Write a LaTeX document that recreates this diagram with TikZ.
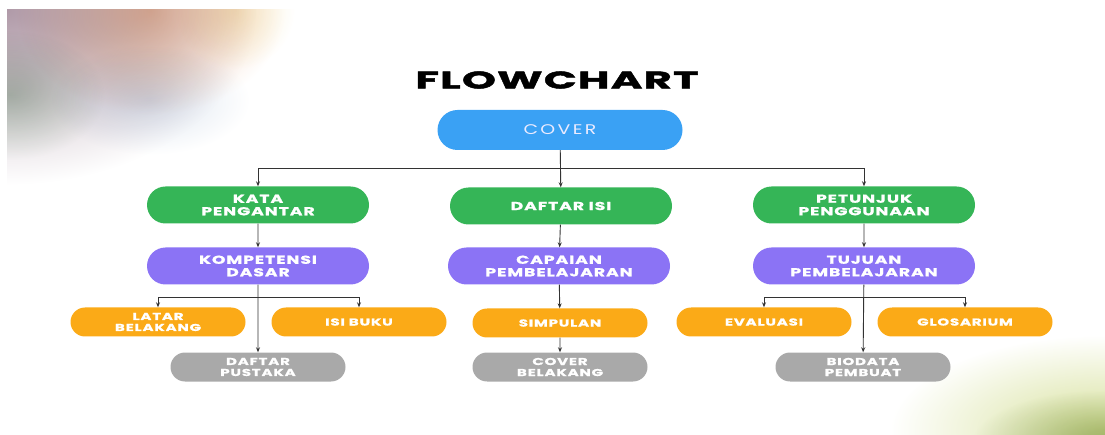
\documentclass[tikz,border=0pt]{standalone}
\usepackage{fontspec}
\setmainfont{Poppins}
\newfontfamily\boxfont[FakeStretch=1.5,LetterSpace=8,FakeBold=1.2]{Poppins}
\newfontfamily\coverfont[FakeStretch=1.35,LetterSpace=17]{Poppins}
\newfontfamily\titlefont[FakeStretch=1.8,LetterSpace=5,FakeBold=2]{Poppins}
\usetikzlibrary{shapes.misc,arrows.meta,positioning}

\definecolor{coverblue}{HTML}{3AA1F4}
\definecolor{topgreen}{HTML}{35B557}
\definecolor{subpurple}{HTML}{8B73F5}
\definecolor{leaforange}{HTML}{FBAA17}
\definecolor{endgray}{HTML}{A9A9A9}
\definecolor{linkgray}{HTML}{333333}
\definecolor{blobmauve}{HTML}{B09AA8}
\definecolor{blobpeach}{HTML}{EFC3A6}
\definecolor{blobsage}{HTML}{C2D6C6}
\definecolor{blobsky}{HTML}{DCE4EE}
\definecolor{blobcream}{HTML}{F8EFCF}
\definecolor{bloblime}{HTML}{D6E09A}
\definecolor{blobmoss}{HTML}{B9C79E}

\tikzset{
  pill/.style={rounded rectangle, inner sep=0pt, text=white, align=center,
    font=\boxfont\bfseries\fontsize{11.5}{12.5}\selectfont},
  bignode/.style={pill, minimum width=222pt, minimum height=37pt},
  smallnode/.style={pill, minimum width=175pt, minimum height=29pt,
    font=\boxfont\bfseries\fontsize{10}{11}\selectfont},
  link/.style={draw=linkgray, line width=0.9pt, -{Stealth[length=5pt,width=4pt]}},
  blob/.style={blend mode=multiply, outer color=white}
}

\begin{document}
\begin{tikzpicture}[x=1pt, y=-1pt]
  \useasboundingbox (0,0) rectangle (1105,435);

  % soft colour blobs in the corners
  \begin{scope}
    \clip (7,10) rectangle (500,300);
    \shade[blob, inner color=blobmauve] (7,10) ellipse (250pt and 175pt);
    \shade[blob, inner color=blobpeach] (150,10) ellipse (135pt and 105pt);
    \shade[blob, inner color=blobcream] (235,10) circle (60pt);
    \shade[blob, inner color=blobsage] (10,95) ellipse (95pt and 65pt);
    \shade[blob, inner color=blobsky] (150,100) ellipse (100pt and 55pt);
  \end{scope}
  \begin{scope}
    \clip (0,0) rectangle (1105,435);
    \shade[blob, inner color=bloblime] (1105,430) ellipse (215pt and 95pt);
    \shade[blob, inner color=blobmoss] (1100,445) ellipse (130pt and 55pt);
  \end{scope}

  % title
  \node[font=\titlefont\bfseries\fontsize{24}{26}\selectfont] (title) at (557,80) {FLOWCHART};

  % level 0
  \node[pill, fill=coverblue, minimum width=245pt, minimum height=40pt,
    font=\coverfont\fontsize{14}{15}\selectfont, text=blue!8] (cover) at (560,130) {COVER};

  % level 1
  \node[bignode, fill=topgreen] (kata) at (258,205) {KATA\\PENGANTAR};
  \node[bignode, fill=topgreen] (daftar) at (561,206) {DAFTAR ISI};
  \node[bignode, fill=topgreen] (petunjuk) at (864,205) {PETUNJUK\\PENGGUNAAN};

  % level 2
  \node[bignode, fill=subpurple] (kompetensi) at (258,266) {KOMPETENSI\\DASAR};
  \node[bignode, fill=subpurple] (capaian) at (559,266) {CAPAIAN\\PEMBELAJARAN};
  \node[bignode, fill=subpurple] (tujuan) at (864,266) {TUJUAN\\PEMBELAJARAN};

  % level 3
  \node[smallnode, fill=leaforange] (latar) at (158,322) {LATAR\\BELAKANG};
  \node[smallnode, fill=leaforange] (isibuku) at (359,322) {ISI BUKU};
  \node[smallnode, fill=leaforange] (simpulan) at (560,323) {SIMPULAN};
  \node[smallnode, fill=leaforange] (evaluasi) at (764,322) {EVALUASI};
  \node[smallnode, fill=leaforange] (glosarium) at (965,322) {GLOSARIUM};

  % level 4
  \node[smallnode, fill=endgray] (pustaka) at (258,367) {DAFTAR\\PUSTAKA};
  \node[smallnode, fill=endgray] (coverbel) at (560,367) {COVER\\BELAKANG};
  \node[smallnode, fill=endgray] (biodata) at (863,367) {BIODATA\\PEMBUAT};

  % split points
  \coordinate (split) at (561,168);
  \coordinate (kompsplit) at (258,297);
  \coordinate (tujsplit) at (864,297);

  % connectors
  \draw[link] (cover) -- (daftar);
  \draw[link] (split) -| (kata);
  \draw[link] (split) -| (petunjuk);
  \draw[link] (kata) -- (kompetensi);
  \draw[link] (daftar) -- (capaian);
  \draw[link] (petunjuk) -- (tujuan);

  \draw[link] (kompetensi) -- (pustaka);
  \draw[link] (kompsplit) -| (latar);
  \draw[link] (kompsplit) -| (isibuku);
  \draw[link] (capaian) -- (simpulan);
  \draw[link] (simpulan) -- (coverbel);
  \draw[link] (tujuan) -- (biodata);
  \draw[link] (tujsplit) -| (evaluasi);
  \draw[link] (tujsplit) -| (glosarium);
\end{tikzpicture}
\end{document}
